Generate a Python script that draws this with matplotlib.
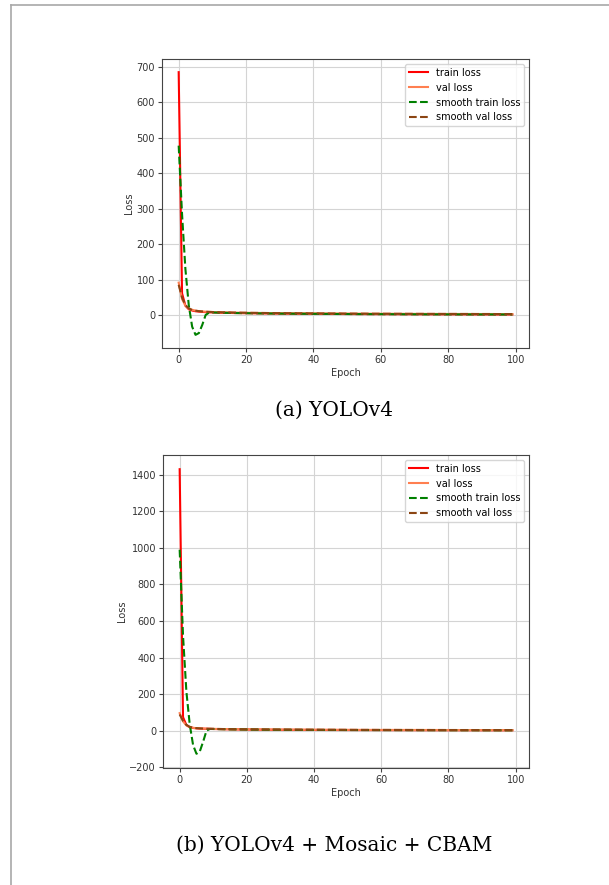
import matplotlib.pyplot as plt
from matplotlib.lines import Line2D

epochs = list(range(100))

# (a) YOLOv4
train_a_head = [685, 62, 27, 17, 13.5, 11.5, 10.4, 9.6, 9.0, 8.5]
train_a_tail = [8.1, 7.8, 7.5, 7.2, 7.0, 6.8, 6.6, 6.4, 6.3, 6.1,
                6.0, 5.9, 5.7, 5.6, 5.5, 5.4, 5.3, 5.2, 5.1, 5.0,
                4.9, 4.8, 4.8, 4.7, 4.6, 4.5, 4.5, 4.4, 4.3, 4.3,
                4.2, 4.2, 4.1, 4.0, 4.0, 3.9, 3.9, 3.8, 3.8, 3.7,
                3.7, 3.6, 3.6, 3.5, 3.5, 3.5, 3.4, 3.4, 3.3, 3.3,
                3.3, 3.2, 3.2, 3.2, 3.1, 3.1, 3.1, 3.0, 3.0, 3.0,
                2.9, 2.9, 2.9, 2.9, 2.8, 2.8, 2.8, 2.8, 2.7, 2.7,
                2.7, 2.7, 2.7, 2.6, 2.6, 2.6, 2.6, 2.6, 2.5, 2.5,
                2.5, 2.5, 2.5, 2.5, 2.4, 2.4, 2.4, 2.4, 2.4, 2.4]
val_a_head = [92, 46, 27, 19, 15.5, 13.2, 11.8, 10.9, 10.2, 9.7]
val_a_tail = [9.3, 9.0, 8.7, 8.4, 8.2, 8.0, 7.8, 7.6, 7.5, 7.3,
              7.2, 7.0, 6.9, 6.8, 6.7, 6.6, 6.5, 6.4, 6.3, 6.2,
              6.1, 6.0, 6.0, 5.9, 5.8, 5.7, 5.7, 5.6, 5.5, 5.5,
              5.4, 5.4, 5.3, 5.2, 5.2, 5.1, 5.1, 5.0, 5.0, 4.9,
              4.9, 4.8, 4.8, 4.7, 4.7, 4.7, 4.6, 4.6, 4.5, 4.5,
              4.5, 4.4, 4.4, 4.4, 4.3, 4.3, 4.3, 4.2, 4.2, 4.2,
              4.1, 4.1, 4.1, 4.1, 4.0, 4.0, 4.0, 4.0, 3.9, 3.9,
              3.9, 3.9, 3.9, 3.8, 3.8, 3.8, 3.8, 3.8, 3.7, 3.7,
              3.7, 3.7, 3.7, 3.7, 3.6, 3.6, 3.6, 3.6, 3.6, 3.6]
smooth_train_a_head = [478, 285, 130, 28, -32, -55, -50, -27, 1, 7.5]
smooth_val_a_head = [86, 50, 29, 19.5, 15, 13, 11.8, 10.9, 10.2, 9.7]

# (b) YOLOv4 + Mosaic + CBAM
train_b_head = [1430, 75, 32, 20, 16, 14, 12.8, 12.0, 11.4, 10.9]
train_b_tail = [10.4, 10.0, 9.6, 9.3, 9.0, 8.7, 8.4, 8.2, 8.0, 7.8,
                7.6, 7.4, 7.2, 7.1, 6.9, 6.8, 6.6, 6.5, 6.4, 6.3,
                6.2, 6.1, 6.0, 5.9, 5.8, 5.7, 5.6, 5.5, 5.5, 5.4,
                5.3, 5.3, 5.2, 5.1, 5.1, 5.0, 5.0, 4.9, 4.9, 4.8,
                4.8, 4.7, 4.7, 4.6, 4.6, 4.5, 4.5, 4.5, 4.4, 4.4,
                4.3, 4.3, 4.3, 4.2, 4.2, 4.2, 4.1, 4.1, 4.1, 4.0,
                4.0, 4.0, 3.9, 3.9, 3.9, 3.9, 3.8, 3.8, 3.8, 3.8,
                3.7, 3.7, 3.7, 3.7, 3.6, 3.6, 3.6, 3.6, 3.6, 3.5,
                3.5, 3.5, 3.5, 3.5, 3.5, 3.4, 3.4, 3.4, 3.4, 3.4]
val_b_head = [97, 52, 30, 21, 17, 15, 13.6, 12.7, 12.0, 11.5]
val_b_tail = [11.1, 10.7, 10.4, 10.1, 9.8, 9.5, 9.3, 9.1, 8.9, 8.7,
              8.5, 8.3, 8.2, 8.0, 7.9, 7.7, 7.6, 7.5, 7.4, 7.3,
              7.2, 7.1, 7.0, 6.9, 6.8, 6.7, 6.6, 6.6, 6.5, 6.4,
              6.4, 6.3, 6.2, 6.2, 6.1, 6.1, 6.0, 6.0, 5.9, 5.9,
              5.8, 5.8, 5.7, 5.7, 5.6, 5.6, 5.6, 5.5, 5.5, 5.4,
              5.4, 5.4, 5.3, 5.3, 5.3, 5.2, 5.2, 5.2, 5.1, 5.1,
              5.1, 5.0, 5.0, 5.0, 5.0, 4.9, 4.9, 4.9, 4.9, 4.8,
              4.8, 4.8, 4.8, 4.7, 4.7, 4.7, 4.7, 4.7, 4.6, 4.6,
              4.6, 4.6, 4.6, 4.5, 4.5, 4.5, 4.5, 4.5, 4.5, 4.4]
smooth_train_b_head = [990, 520, 215, 35, -78, -125, -112, -58, 2, 10.5]
smooth_val_b_head = [90, 55, 33, 22, 17.5, 15, 13.6, 12.7, 12.0, 11.5]

panels = [
    {"train": train_a_head + train_a_tail, "val": val_a_head + val_a_tail,
     "smooth_train": smooth_train_a_head + train_a_tail,
     "smooth_val": smooth_val_a_head + val_a_tail,
     "caption": "(a) YOLOv4",
     "rect": [0.266, 0.6068, 0.6026, 0.3265], "cap_y": 1 - 410 / 885},
    {"train": train_b_head + train_b_tail, "val": val_b_head + val_b_tail,
     "smooth_train": smooth_train_b_head + train_b_tail,
     "smooth_val": smooth_val_b_head + val_b_tail,
     "caption": "(b) YOLOv4 + Mosaic + CBAM",
     "rect": [0.2677, 0.1322, 0.6009, 0.3537], "cap_y": 1 - 845 / 885},
]

fig = plt.figure(figsize=(6.09, 8.85), dpi=100)

for p in panels:
    ax = fig.add_axes(p["rect"])
    ax.plot(epochs, p["train"], 'red', linewidth=1.5, label='train loss')
    ax.plot(epochs, p["val"], 'coral', linewidth=1.5, label='val loss')
    ax.plot(epochs, p["smooth_train"], 'green', linestyle='--', linewidth=1.5,
            label='smooth train loss')
    ax.plot(epochs, p["smooth_val"], '#8B4513', linestyle='--', linewidth=1.5,
            label='smooth val loss')
    ax.grid(True, color='#d4d4d4', linewidth=0.8)
    for s in ax.spines.values():
        s.set_color('#444444')
    ax.set_xlabel('Epoch', fontsize=7, labelpad=2, color='#333333')
    ax.set_ylabel('Loss', fontsize=7, labelpad=2, color='#333333')
    ax.tick_params(labelsize=7, length=3, pad=2, color='#444444',
                   labelcolor='#333333')
    ax.legend(loc='upper right', fontsize=7)
    fig.text(0.548, p["cap_y"], p["caption"], ha='center', va='center',
             family='DejaVu Serif', fontsize=14.5)

# page frame
fig.add_artist(Line2D([11 / 609, 1], [1 - 5 / 885, 1 - 5 / 885],
                      transform=fig.transFigure, color='#a8a8a8', linewidth=1.2))
fig.add_artist(Line2D([11 / 609, 11 / 609], [0, 1 - 5 / 885],
                      transform=fig.transFigure, color='#a8a8a8', linewidth=1.2))

fig.savefig('out.png', dpi=100)
